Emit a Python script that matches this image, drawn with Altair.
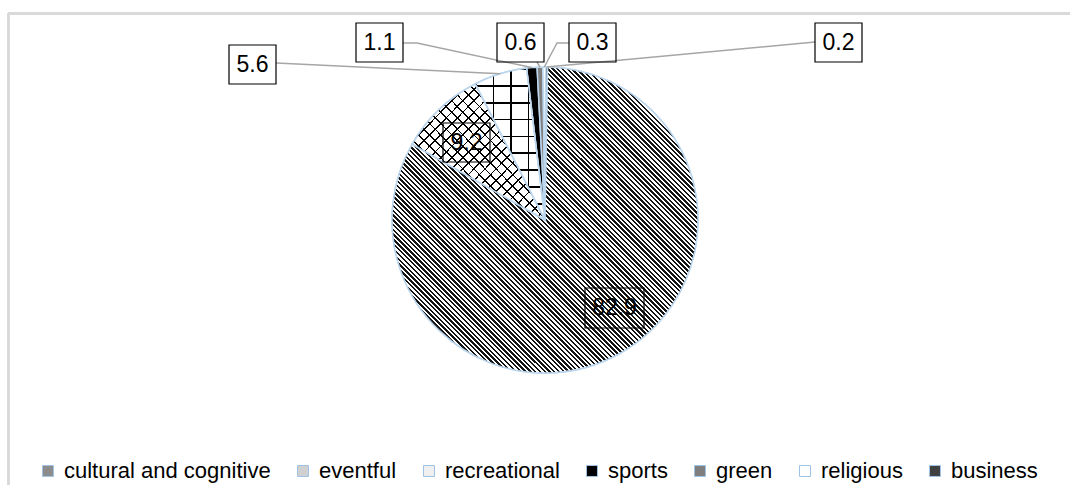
import math
import altair as alt
import pandas as pd

# ---------------- data ----------------
categories = ["cultural and cognitive", "eventful", "recreational", "sports",
              "green", "religious", "business"]
values = [82.9, 9.2, 5.6, 1.1, 0.6, 0.3, 0.2]
label_text = ["82.9", "9.2", "5.6", "1.1", "0.6", "0.3", "0.2"]

# ---------------- layout / style ----------------
W, H = 1070, 485
CX, CY, R = 545, 220, 153
ROT_DEG = 1.0
FONT = "Liberation Sans"
FS_LEGEND = 22
FS_LABEL = 23
BLUE = "#bdd7ee"
GRID_GRAY = "#d9d9d9"
LEADER = "#a6a6a6"
legend_colors = ["#8c8c8c", "#d0d0d0", "#f0f0f0", "#000000", "#7f7f7f", "#ffffff", "#404040"]

# label boxes: centre x, centre y, width, height (manual placement as in the original)
box_layout = [
    (614.5, 308, 59, 40),
    (466.5, 142.5, 47, 39),
    (252.5, 64.5, 47, 39),
    (379.5, 42.5, 47, 39),
    (520.5, 42.5, 47, 39),
    (592.5, 42.5, 47, 39),
    (838.5, 42.5, 47, 39),
]
# leader lines start points (box side) ; None for labels inside the pie
leader_start = [None, None, [(276, 63)], [(403, 43), (417, 43)], [(537, 62)],
                [(569, 43), (557, 43)], [(815, 42)]]

# ---------------- derived ----------------
df = pd.DataFrame({"category": categories, "value": values})
df["end"] = df["value"].cumsum()
df["start"] = df["end"] - df["value"]
total = float(df["value"].sum())
rot = math.radians(ROT_DEG)


def deg_of(v):
    return ROT_DEG + v / total * 360.0


def slice_bbox(a0, a1):
    xs, ys = [CX], [CY]
    for k in range(121):
        a = math.radians(a0 + (a1 - a0) * k / 120)
        xs.append(CX + R * math.sin(a))
        ys.append(CY - R * math.cos(a))
    return max(xs) - min(xs), max(ys) - min(ys)


def stripes(direction, w, h, spacing, duty, ink, paper, n=None):
    if direction == "h":
        c, length = dict(x1=0, y1=0, x2=0, y2=1), h
    elif direction == "v":
        c, length = dict(x1=0, y1=0, x2=1, y2=0), w
    elif direction == "back":  # "\" lines
        c, length = dict(x1=0, y1=1, x2=1, y2=0), (w + h) / math.sqrt(2)
    else:  # "/" lines
        c, length = dict(x1=0, y1=0, x2=1, y2=1), (w + h) / math.sqrt(2)
    if n is None:
        n = max(1, int(round(length / spacing)))
    stops = []
    for i in range(n):
        a, b, e = i / n, (i + duty) / n, (i + 1) / n
        stops += [
            {"offset": round(a, 6), "color": ink},
            {"offset": round(b, 6), "color": ink},
            {"offset": round(b, 6), "color": paper},
            {"offset": round(e, 6), "color": paper},
        ]
    g = {"gradient": "linear", "stops": stops}
    g.update(c)
    return g


bb = {}
for cat, s, e in zip(df["category"], df["start"], df["end"]):
    bb[cat] = slice_bbox(deg_of(s), deg_of(e))

theta_scale = alt.Scale(domain=[0, total], range=[rot, rot + 2 * math.pi])


def arc_layer(**kw):
    return alt.Chart().mark_arc(outerRadius=R, **kw).encode(
        theta=alt.Theta("start:Q", scale=theta_scale),
        theta2="end:Q",
        x=alt.value(CX),
        y=alt.value(CY),
    )


def only(cat):
    return alt.datum.category == cat


base = arc_layer(stroke=BLUE, strokeWidth=1.5).encode(
    color=alt.Color(
        "category:N",
        scale=alt.Scale(domain=categories, range=legend_colors),
        legend=alt.Legend(
            orient="none", legendX=37, legendY=460, direction="horizontal",
            title=None, symbolType="square", symbolSize=120,
            symbolStrokeColor="#9dc3e6", symbolStrokeWidth=1,
            labelFont=FONT, labelFontSize=FS_LEGEND, labelColor="black",
            labelOffset=5, columnPadding=21, padding=0, labelLimit=500,
        ),
    )
)

TRANSP = "rgba(0,0,0,0)"
w, h = bb["cultural and cognitive"]
cult = arc_layer(fill=stripes("back", w, h, 3.4, 0.5, "#141414", "#ffffff", n=128),
                 stroke=BLUE, strokeWidth=1.5).transform_filter(only("cultural and cognitive"))
w, h = bb["eventful"]
ev1 = arc_layer(fill=stripes("fwd", w, h, 8, 0.16, "#000000", "#ffffff"),
                stroke=BLUE, strokeWidth=1.5).transform_filter(only("eventful"))
ev2 = arc_layer(fill=stripes("back", w, h, 8, 0.16, "#000000", TRANSP),
                stroke=BLUE, strokeWidth=1.5).transform_filter(only("eventful"))
w, h = bb["recreational"]
rc1 = arc_layer(fill=stripes("h", w, h, 17, 0.1, "#000000", "#ffffff"),
                stroke=BLUE, strokeWidth=1.5).transform_filter(only("recreational"))
rc2 = arc_layer(fill=stripes("v", w, h, 17, 0.1, "#000000", TRANSP),
                stroke=BLUE, strokeWidth=1.5).transform_filter(only("recreational"))

# ---------------- labels ----------------
lab = pd.DataFrame({
    "text": label_text,
    "bx": [b[0] for b in box_layout],
    "by": [b[1] for b in box_layout],
})
lab["x0"] = [b[0] - b[2] / 2 for b in box_layout]
lab["x1"] = [b[0] + b[2] / 2 for b in box_layout]
lab["y0"] = [b[1] - b[3] / 2 for b in box_layout]
lab["y1"] = [b[1] + b[3] / 2 for b in box_layout]

rows = []
for i, (s, e) in enumerate(zip(df["start"], df["end"])):
    if leader_start[i] is None:
        continue
    mid = math.radians(deg_of((s + e) / 2))
    pts = list(leader_start[i]) + [(CX + R * math.sin(mid), CY - R * math.cos(mid))]
    for j, (px, py) in enumerate(pts):
        rows.append({"lid": label_text[i], "seq": j, "px": px, "py": py})
lines_df = pd.DataFrame(rows)

leaders = alt.Chart(lines_df).mark_line(color=LEADER, strokeWidth=1.5).encode(
    x=alt.X("px:Q", scale=None, axis=None),
    y=alt.Y("py:Q", scale=None, axis=None),
    detail="lid:N",
    order="seq:Q",
)
boxes = alt.Chart(lab).mark_rect(filled=False, stroke="black", strokeWidth=1.2).encode(
    x=alt.X("x0:Q", scale=None, axis=None), x2="x1:Q",
    y=alt.Y("y0:Q", scale=None, axis=None), y2="y1:Q",
)
texts = alt.Chart(lab).mark_text(font=FONT, fontSize=FS_LABEL, align="center",
                                 baseline="middle", color="black").encode(
    x=alt.X("bx:Q", scale=None, axis=None),
    y=alt.Y("by:Q", scale=None, axis=None),
    text="text:N",
)

# chart-area border (top and left edges visible)
border_top = alt.Chart(lab).mark_rule(color=GRID_GRAY, strokeWidth=2).encode(
    x=alt.value(8), x2=alt.value(W), y=alt.value(13.5))
border_left = alt.Chart(lab).mark_rule(color=GRID_GRAY, strokeWidth=2).encode(
    x=alt.value(8.5), y=alt.value(13), y2=alt.value(H))

chart = alt.layer(
    base, cult, ev1, ev2, rc1, rc2, leaders, boxes, texts, border_top, border_left,
    data=df,
).properties(
    width=W, height=H, padding=0, autosize="none", background="white"
).configure_view(stroke=None)

chart.save("out.html", embed_options={"renderer": "svg", "actions": False})
